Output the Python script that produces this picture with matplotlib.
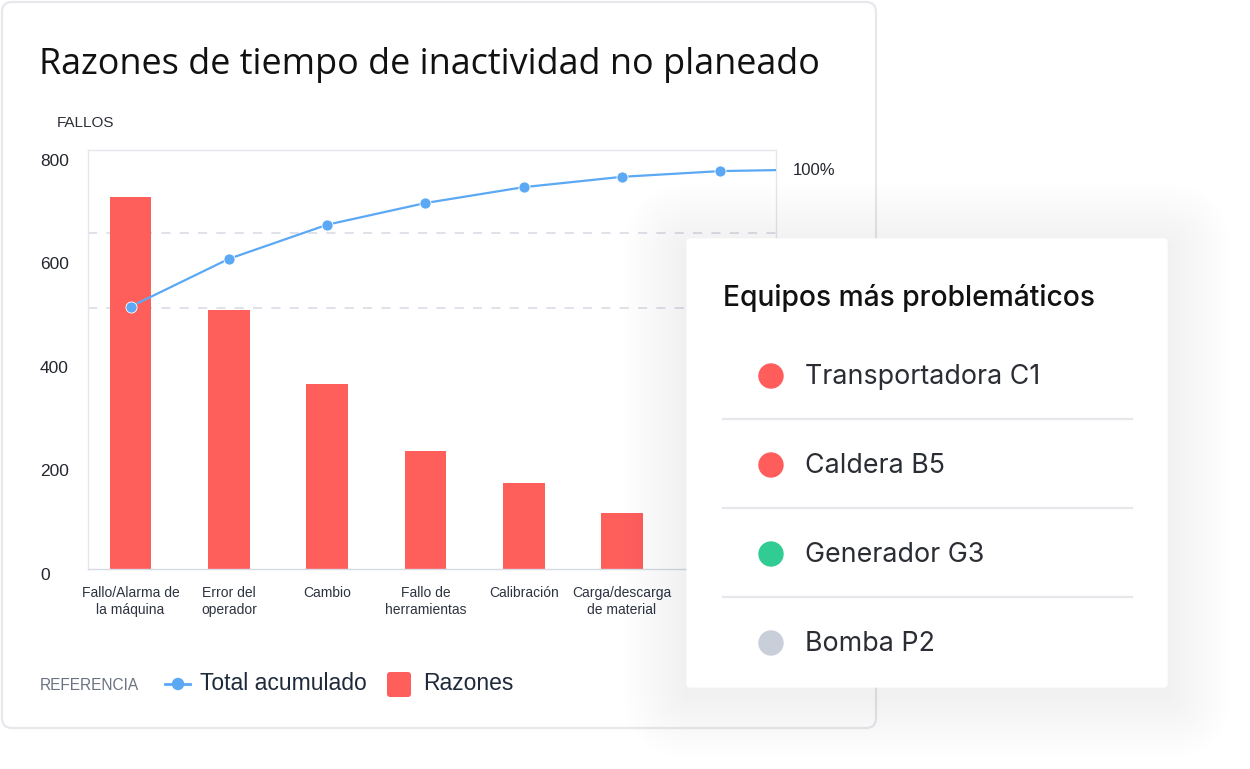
import numpy as np
import matplotlib
matplotlib.use('Agg')
import matplotlib.pyplot as plt
from matplotlib.patches import FancyBboxPatch, Circle
from matplotlib import transforms

# ── datos ─────────────────────────────────────────────────
CATEGORIES = [
    'Fallo/Alarma de\nla máquina', 'Error del\noperador', 'Cambio',
    'Fallo de\nherramientas', 'Calibración', 'Carga/descarga\nde material',
    'Otros', 'Sin clasificar',
]
FALLOS = [718, 500, 357, 227, 166, 108, 60, 18]
Y_TICKS = [0, 200, 400, 600, 800]
GUIDE_LEVELS = [503, 648]          # líneas discontinuas (eje izquierdo)

EQUIPOS = ['Transportadora C1', 'Caldera B5', 'Generador G3', 'Bomba P2']
EQUIPO_COLORS = ['#FF5C5C', '#FF5C5C', '#31CC93', '#C9CFD8']

RED = '#FF5F5B'
BLUE = '#5BA8F5'
TXT = '#23272e'

W, H = 1250, 769
fig = plt.figure(figsize=(W / 100, H / 100), dpi=100)
fig.patch.set_facecolor('white')


def px_axes(z):
    a = fig.add_axes([0, 0, 1, 1], zorder=z)
    a.set_xlim(0, W)
    a.set_ylim(H, 0)
    a.axis('off')
    a.patch.set_alpha(0)
    return a


def rbox(a, x0, y0, x1, y1, r, **kw):
    p = FancyBboxPatch((x0 + r, y0 + r), x1 - x0 - 2 * r, y1 - y0 - 2 * r,
                       boxstyle=f'round,pad={r}', **kw)
    a.add_patch(p)
    return p


# ── tarjeta principal ─────────────────────────────────────
bg = px_axes(0)
rbox(bg, 2, 2, 876, 728, 10, facecolor='white', edgecolor='#E6E8EC', lw=1.6)
bg.text(39, 65, 'Razones de tiempo de inactividad no planeado', fontsize=25.9,
        family='Open Sans', color='#111111', va='center', ha='left')
bg.text(57, 123, 'FALLOS', fontsize=11, family='Liberation Sans',
        color='#2b2f36', va='center')

# leyenda
bg.text(40, 686, 'REFERENCIA', fontsize=11.2, family='Liberation Sans',
        color='#6b7280', va='center')
bg.plot([165, 190], [684, 684], color=BLUE, lw=2)
bg.add_patch(Circle((178, 684), 5.5, color=BLUE))
bg.text(200, 684, 'Total acumulado', fontsize=16.5, family='Liberation Sans',
        color='#1e2a3b', va='center')
rbox(bg, 387, 672, 411, 697, 3, facecolor=RED, edgecolor='none')
bg.text(423, 684, 'Razones', fontsize=16.5, family='Liberation Sans',
        color='#1e2a3b', va='center')

# ── gráfico de Pareto ─────────────────────────────────────
L, R, T, B = 88, 775.7, 150, 568.5
ax = fig.add_axes([L / W, 1 - B / H, (R - L) / W, (B - T) / H], zorder=2)
ax.patch.set_alpha(0)
x = np.arange(len(FALLOS))
ax.bar(x, FALLOS, width=0.425, color=RED, zorder=2)
for lv in GUIDE_LEVELS:
    ax.axhline(lv, color='#d6dae1', lw=1.1, dashes=(6, 6), zorder=1)

ax.set_xticks(x)
ax.set_xticklabels(CATEGORIES, fontsize=10, family='Liberation Sans',
                   color='#2d3340', linespacing=1.3)
ax.tick_params(axis='x', length=0, pad=12.5)
ax.set_yticks([])
ax.set_ylim(0, 808.7)
lab_tr = transforms.offset_copy(ax.get_yaxis_transform(), fig=fig, y=-6.5, units='dots')
for v in Y_TICKS:
    ax.text(-(L - 40) / (R - L), v, str(v), transform=lab_tr, fontsize=12.5,
            family='Liberation Sans', color=TXT, va='center', ha='left')
for side, sp in ax.spines.items():
    sp.set_color('#E5E7EB')
    sp.set_linewidth(1)
ax.spines['bottom'].set_color('#D5DAE4')

ax2 = ax.twinx()
ax2.set_zorder(3)
ax2.patch.set_alpha(0)
cum = np.cumsum(FALLOS) / np.sum(FALLOS) * 100
ax2.plot(x, cum, color=BLUE, lw=1.6, marker='o', ms=8, mfc=BLUE,
         mec='white', mew=0.6, zorder=4)
ax2.set_ylim(-93.8, 109.4)
ax2.set_yticks([100])
ax2.set_yticklabels(['100%'], fontsize=12, family='Liberation Sans', color=TXT)
ax2.tick_params(axis='y', length=0, pad=12.5)
for sp in ax2.spines.values():
    sp.set_visible(False)
ax.set_xlim(-0.433, 6.563)

# ── tarjeta superpuesta ───────────────────────────────────
ov = px_axes(5)
cx0, cy0, cx1, cy1 = 686.5, 238.3, 1167.7, 687.7
for i in range(14, 0, -1):
    g = i * 4.5
    rbox(ov, cx0 - g, cy0 - g + 8, cx1 + g, cy1 + g + 8, 6 + g,
         facecolor='#34477f', edgecolor='none', alpha=1.0 / 255, lw=0)
rbox(ov, cx0, cy0, cx1, cy1, 4, facecolor='white', edgecolor='none')
ov.text(723, 298, 'Equipos más problemáticos', fontsize=20.3, family='Inter',
        fontweight='medium', color='#111111', va='center', ha='left')
ROW_Y0, ROW_DY = 376, 89
for i, (name, col) in enumerate(zip(EQUIPOS, EQUIPO_COLORS)):
    yy = ROW_Y0 + i * ROW_DY
    ov.add_patch(Circle((771, yy), 12, color=col))
    ov.text(805, yy + 1, name, fontsize=19.3, family='Inter', color='#2a2d33',
            va='center', ha='left')
    if i < len(EQUIPOS) - 1:
        ov.plot([723, 1132], [yy + 43, yy + 43], color='#E5E7EB', lw=1.6)

fig.savefig('out.png', dpi=100)
